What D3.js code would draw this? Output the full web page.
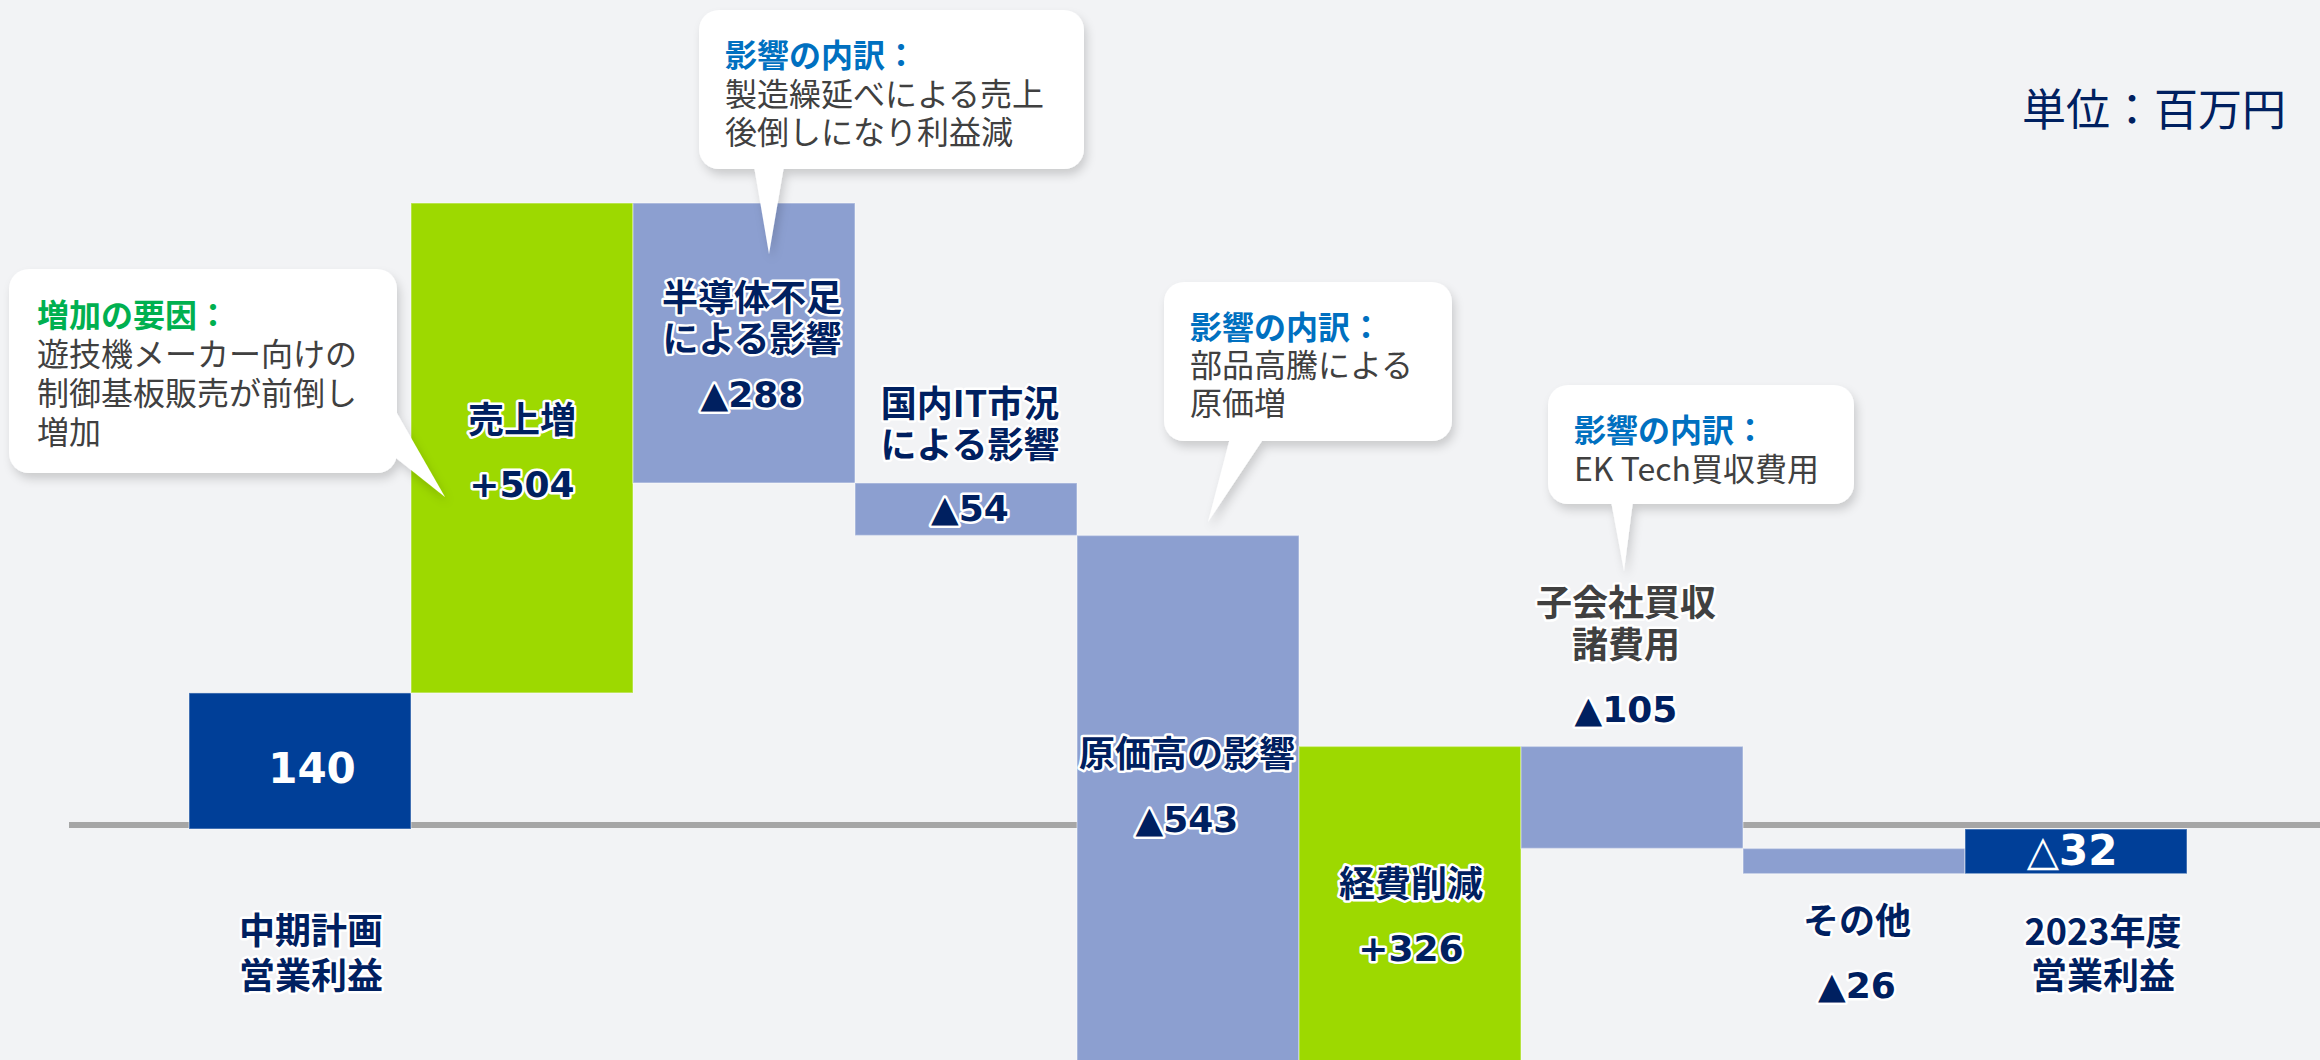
<!DOCTYPE html>
<html>
<head>
<meta charset="utf-8">
<script src="https://cdn.jsdelivr.net/npm/d3@7"></script>
<style>
  body { margin: 0; background: #f2f3f5; }
  svg { display: block; }
</style>
</head>
<body>
<div id="chart"></div>
<script>
// Waterfall data
const categories = ['中期計画\n営業利益', '売上増', '半導体不足\nによる影響', '国内IT市況\nによる影響', '原価高の影響', '経費削減', '子会社買収\n諸費用', 'その他', '2023年度\n営業利益']
const startValue = 140
const deltas = [504, -288, -54, -543, 326, -105, -26]
const valueLabels = ['140', '+504', '▲288', '▲54', '▲543', '+326', '▲105', '▲26', '△32']
const kinds = ['total', 'up', 'down', 'down', 'down', 'up', 'down', 'down', 'total']
const unitLabel = '単位：百万円'

// Callout texts
const calloutTitles = ['増加の要因：', '影響の内訳：', '影響の内訳：', '影響の内訳：']
const calloutBodies = [
  ['遊技機メーカー向けの', '制御基板販売が前倒し', '増加'],
  ['製造繰延べによる売上', '後倒しになり利益減'],
  ['部品高騰による', '原価増'],
  ['EK Tech買収費用']
]

const drawChart = () => {
  const width = 2320
  const height = 1060

  const colors = { total: '#003f98', up: '#9dd900', down: '#8c9fd0' }
  const navy = '#002060'

  const svg = d3.select('#chart')
    .append('svg')
    .attr('width', width)
    .attr('height', height)

  svg.append('rect')
    .attr('width', width)
    .attr('height', height)
    .attr('fill', '#f2f3f5')

  const defs = svg.append('defs')
  const shadow = defs.append('filter')
    .attr('id', 'shadow')
    .attr('x', '-10%').attr('y', '-10%')
    .attr('width', '130%').attr('height', '140%')
  shadow.append('feDropShadow')
    .attr('dx', 3).attr('dy', 6)
    .attr('stdDeviation', 5)
    .attr('flood-color', '#000')
    .attr('flood-opacity', 0.16)

  // Build the steps
  let running = startValue
  const steps = [{ i: 0, y0: 0, y1: startValue }]
  deltas.forEach((d, k) => {
    steps.push({ i: k + 1, y0: running, y1: running + d })
    running += d
  })
  steps.push({ i: steps.length, y0: 0, y1: running })

  // Scales
  const x = d3.scaleBand()
    .domain(d3.range(categories.length))
    .range([189, 2187])
    .padding(0)

  const y = d3.scaleLinear()
    .domain([-250, 700])
    .range([1072, 148.6])

  // Zero line (drawn beneath the bars)
  svg.append('line')
    .attr('x1', 69)
    .attr('x2', width)
    .attr('y1', y(0) - 4)
    .attr('y2', y(0) - 4)
    .attr('stroke', '#a6a6a6')
    .attr('stroke-width', 6)

  // Bars
  svg.append('g')
    .selectAll('rect')
    .data(steps)
    .join('rect')
    .attr('x', d => x(d.i))
    .attr('width', x.bandwidth())
    .attr('y', d => y(Math.max(d.y0, d.y1)))
    .attr('height', d => Math.abs(y(d.y0) - y(d.y1)))
    .attr('fill', d => colors[kinds[d.i]])
    .attr('stroke', 'rgba(255,255,255,0.35)')
    .attr('stroke-width', 1.5)

  // Label layout: x offset from band centre, line centres of name, value centre
  const layout = [
    { dx: 11, names: [928, 973], vdx: 12, v: 768 },
    { dx: 0, names: [417], vdx: 0, v: 484 },
    { dx: 8, names: [295, 336], vdx: 8, v: 394 },
    { dx: 4, names: [401, 442], vdx: 4, v: 508 },
    { dx: -1, names: [751], vdx: -1, v: 819 },
    { dx: 1, names: [881], vdx: 1, v: 948 },
    { dx: -6, names: [600, 642], vdx: -6, v: 709 },
    { dx: 3, names: [918], vdx: 3, v: 985 },
    { dx: 27, names: [929, 973], vdx: -4, v: 850 }
  ]

  const labels = svg.append('g')
  categories.forEach((c, i) => {
    const cx = x(i) + x.bandwidth() / 2
    const L = layout[i]
    const name = labels.append('text')
      .attr('text-anchor', 'middle')
      .attr('dominant-baseline', 'central')
      .attr('font-family', "'Noto Sans CJK JP', sans-serif")
      .attr('font-weight', 700)
      .attr('font-size', 36)
      .attr('fill', i === 6 ? '#404040' : navy)
      .attr('stroke', '#fff')
      .attr('stroke-width', 5)
      .attr('stroke-linejoin', 'round')
      .attr('paint-order', 'stroke')
    c.split('\n').forEach((line, j) => {
      name.append('tspan')
        .attr('x', cx + L.dx)
        .attr('y', L.names[j])
        .attr('dominant-baseline', 'central')
        .text(line)
    })
    const isTotal = kinds[i] === 'total'
    labels.append('text')
      .attr('x', cx + L.vdx)
      .attr('y', L.v)
      .attr('text-anchor', 'middle')
      .attr('dominant-baseline', 'central')
      .attr('font-family', "'DejaVu Sans', 'Noto Sans CJK JP', sans-serif")
      .attr('font-weight', 700)
      .attr('font-size', isTotal ? 42 : 36)
      .attr('fill', isTotal ? '#fff' : navy)
      .attr('stroke', isTotal ? 'none' : '#fff')
      .attr('stroke-width', 5)
      .attr('stroke-linejoin', 'round')
      .attr('paint-order', 'stroke')
      .text(valueLabels[i])
  })

  // Unit
  svg.append('text')
    .attr('x', 2286)
    .attr('y', 107)
    .attr('text-anchor', 'end')
    .attr('dominant-baseline', 'central')
    .attr('font-family', "'Noto Sans CJK JP', sans-serif")
    .attr('font-size', 44)
    .attr('fill', navy)
    .text(unitLabel)

  // Callouts: box, tail (base a, base b, tip), text start, first line y, line step
  const callouts = [
    { box: [9, 269, 388, 204], tail: [[394, 408], [396, 458], [445, 497]], tx: 37, ty: 313, step: 39, color: '#00b050' },
    { box: [699, 10, 385, 159], tail: [[754, 166], [784, 166], [769, 254]], tx: 725, ty: 53, step: 38.5, color: '#0070c0' },
    { box: [1164, 282, 288, 159], tail: [[1230, 438], [1264, 438], [1208, 522]], tx: 1190, ty: 325, step: 38, color: '#0070c0' },
    { box: [1548, 385, 306, 119], tail: [[1611, 501], [1633, 501], [1624, 571]], tx: 1574, ty: 428, step: 39, color: '#0070c0' }
  ]

  callouts.forEach((c, i) => {
    const g = svg.append('g').attr('filter', 'url(#shadow)')
    g.append('rect')
      .attr('x', c.box[0]).attr('y', c.box[1])
      .attr('width', c.box[2]).attr('height', c.box[3])
      .attr('rx', 20)
      .attr('fill', '#fff')
    g.append('path')
      .attr('d', d3.line()(c.tail) + 'Z')
      .attr('fill', '#fff')

    const t = svg.append('text')
      .attr('font-family', "'Noto Sans CJK JP', sans-serif")
      .attr('font-size', 32)
      .attr('dominant-baseline', 'central')
    t.append('tspan')
      .attr('x', c.tx).attr('y', c.ty)
      .attr('dominant-baseline', 'central')
      .attr('font-weight', 700)
      .attr('fill', c.color)
      .text(calloutTitles[i])
    calloutBodies[i].forEach((line, j) => {
      t.append('tspan')
        .attr('x', c.tx).attr('y', c.ty + c.step * (j + 1))
        .attr('dominant-baseline', 'central')
        .attr('fill', '#404040')
        .text(line)
    })
  })
}

drawChart()
</script>
</body>
</html>
